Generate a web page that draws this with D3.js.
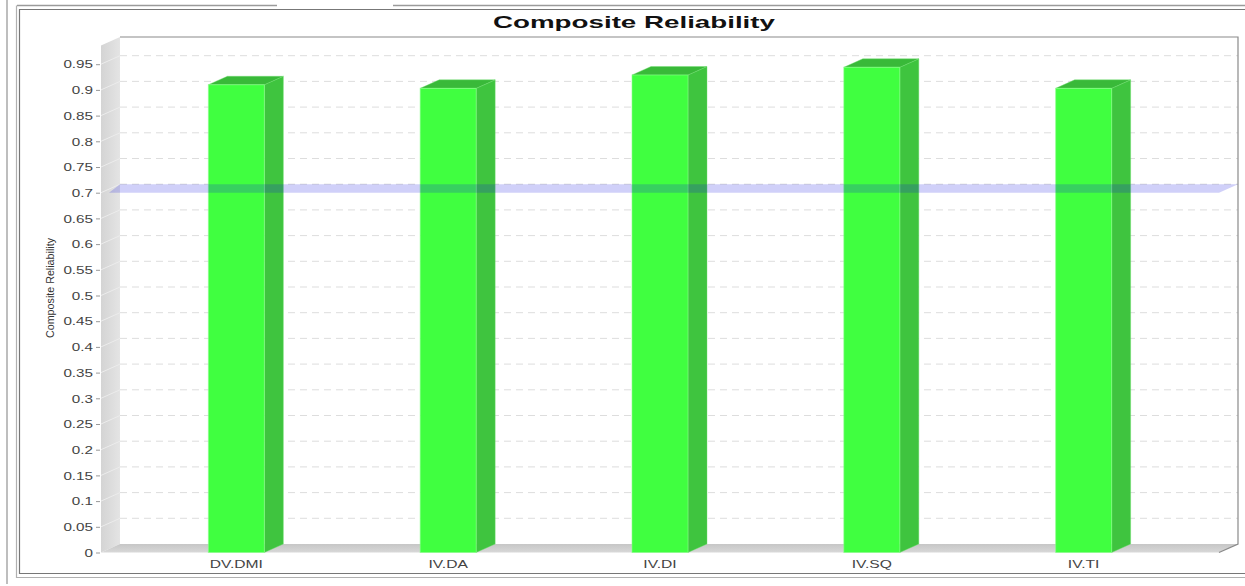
<!DOCTYPE html>
<html>
<head>
<meta charset="utf-8">
<script src="https://cdn.jsdelivr.net/npm/d3@7"></script>
<style>
  body { margin: 0; background: #fff; }
  svg { display: block; }
</style>
</head>
<body>
<svg id="chart" width="1245" height="586"></svg>
<script>
// Composite reliability per construct, with the 0.7 threshold marker
const categories = ["DV.DMI", "IV.DA", "IV.DI", "IV.SQ", "IV.TI"];
const reliability = [0.910, 0.903, 0.929, 0.944, 0.903];
const threshold = 0.7;
const yTicks = [0, 0.05, 0.1, 0.15, 0.2, 0.25, 0.3, 0.35, 0.4, 0.45, 0.5,
                0.55, 0.6, 0.65, 0.7, 0.75, 0.8, 0.85, 0.9, 0.95];
const chartTitle = "Composite Reliability";
const yAxisTitle = "Composite Reliability";

const svg = d3.select("#chart");
const FONT = "'Liberation Sans', Arial, sans-serif";

// plot frame (front plane) and 3D depth offset
const left = 101, right = 1219, frontTop = 45.5;
const dx = 19, dy = 8.5;
const barW = 56;

const y = d3.scaleLinear().domain([0, 1]).range([552.5, 38.5]);
const x = d3.scalePoint().domain(categories).range([left, right]).padding(0.639);
const y0 = y(0);

// widen text horizontally by a factor
function stretch(sel, factor) {
  sel.each(function () {
    const w = this.getComputedTextLength();
    d3.select(this).attr("textLength", w * factor).attr("lengthAdjust", "spacingAndGlyphs");
  });
}

// outer frame lines
svg.append("line").attr("x1", 7).attr("x2", 7).attr("y1", 0).attr("y2", 584)
  .attr("stroke", "#a8a8a8").attr("stroke-width", 1.5);
svg.append("line").attr("x1", 17).attr("x2", 277).attr("y1", 5.5).attr("y2", 5.5)
  .attr("stroke", "#9a9a9a").attr("stroke-width", 1.5);
svg.append("line").attr("x1", 393).attr("x2", 1245).attr("y1", 5.5).attr("y2", 5.5)
  .attr("stroke", "#9a9a9a").attr("stroke-width", 1.5);
svg.append("path").attr("d", "M16.5,5.5 V577.5 H1245")
  .attr("fill", "none").attr("stroke", "#b0b0b0").attr("stroke-width", 1.2);
svg.append("path").attr("d", "M1245,9.5 H19.5 V573.5 H1245")
  .attr("fill", "none").attr("stroke", "#777").attr("stroke-width", 1.2);

// title
svg.append("text").attr("x", 634).attr("y", 27.5).attr("text-anchor", "middle")
  .attr("font-family", FONT).attr("font-weight", "bold").attr("font-size", 17)
  .attr("fill", "#111").text(chartTitle)
  .attr("textLength", 282).attr("lengthAdjust", "spacingAndGlyphs");

// gradients for the side wall and floor
const defs = svg.append("defs");
const wg = defs.append("linearGradient").attr("id", "wallGrad").attr("x1", 0).attr("x2", 1).attr("y1", 0).attr("y2", 0);
wg.append("stop").attr("offset", 0).attr("stop-color", "#d4d4d4");
wg.append("stop").attr("offset", 1).attr("stop-color", "#e4e4e4");
const fg = defs.append("linearGradient").attr("id", "floorGrad").attr("x1", 0).attr("x2", 0).attr("y1", 0).attr("y2", 1);
fg.append("stop").attr("offset", 0).attr("stop-color", "#c6c6c6");
fg.append("stop").attr("offset", 1).attr("stop-color", "#d8d8d8");

const poly = pts => "M" + pts.map(p => p.join(",")).join("L") + "Z";

// left wall
svg.append("path")
  .attr("d", poly([[left, y0], [left, frontTop], [left + dx, frontTop - dy], [left + dx, y0 - dy]]))
  .attr("fill", "url(#wallGrad)");

// floor
svg.append("path")
  .attr("d", poly([[left, y0], [left + dx, y0 - dy], [right + dx, y0 - dy], [right, y0]]))
  .attr("fill", "url(#floorGrad)");

// gridlines on the back wall and traces on the side wall
const grid = svg.append("g");
grid.selectAll("line.back").data(yTicks.filter(v => v > 0)).join("line")
  .attr("class", "back")
  .attr("x1", left + dx).attr("x2", right + dx)
  .attr("y1", d => y(d) - dy).attr("y2", d => y(d) - dy)
  .attr("stroke", "#d9d9d9").attr("stroke-width", 0.9)
  .attr("stroke-dasharray", "7,5");
grid.selectAll("line.side").data(yTicks.filter(v => v > 0)).join("line")
  .attr("class", "side")
  .attr("x1", left).attr("x2", left + dx)
  .attr("y1", d => y(d)).attr("y2", d => y(d) - dy)
  .attr("stroke", "#ececec").attr("stroke-width", 1);

// back wall outline
svg.append("path")
  .attr("d", `M${left + dx},${frontTop - dy} H${right + dx} V${y0 - dy} L${right},${y0}`)
  .attr("fill", "none").attr("stroke", "#8a8a8a").attr("stroke-width", 1.2);

// bars: side, top, then front face
const bars = svg.append("g").selectAll("g").data(categories.map((c, i) => ({ c, v: reliability[i] })))
  .join("g");
bars.each(function (d) {
  const g = d3.select(this);
  const cx = x(d.c), x0 = cx - barW / 2, x1 = cx + barW / 2, yt = y(d.v);
  g.append("path").attr("d", poly([[x1, yt], [x1 + dx, yt - dy], [x1 + dx, y0 - dy], [x1, y0]]))
    .attr("fill", "#3fc43f").attr("stroke", "#6fe06f").attr("stroke-width", 0.8).attr("stroke-opacity", 0.5);
  g.append("path").attr("d", poly([[x0, yt], [x0 + dx, yt - dy], [x1 + dx, yt - dy], [x1, yt]]))
    .attr("fill", "#39b939").attr("stroke", "#6fe06f").attr("stroke-width", 0.8).attr("stroke-opacity", 0.5);
  g.append("rect").attr("x", x0).attr("y", yt).attr("width", barW).attr("height", y0 - yt)
    .attr("fill", "#40ff40").attr("stroke", "#8aff8a").attr("stroke-width", 1).attr("stroke-opacity", 0.6);
});

// threshold marker band
const ym = y(threshold);
svg.append("path")
  .attr("d", poly([[left + 8, ym], [left + dx, ym - dy], [right + dx, ym - dy], [right, ym]]))
  .attr("fill", "rgb(20,20,225)").attr("fill-opacity", 0.2);

// value axis
const yAxis = d3.axisLeft(y).tickValues(yTicks).tickFormat(d3.format("~g")).tickSize(4).tickPadding(3);
const ya = svg.append("g").attr("transform", `translate(${left - 1},0)`).call(yAxis);
ya.select(".domain").remove();
ya.selectAll(".tick line").attr("stroke", "#999");
ya.selectAll(".tick text").attr("font-family", FONT).attr("font-size", 10.5).attr("fill", "#444")
  .attr("dy", "0.36em").call(stretch, 1.45);

// category labels
svg.append("g").selectAll("text").data(categories).join("text")
  .attr("x", d => x(d)).attr("y", 568).attr("text-anchor", "middle")
  .attr("font-family", FONT).attr("font-size", 11).attr("fill", "#444")
  .text(d => d).call(stretch, 1.42);

// value axis title
svg.append("text").attr("transform", "translate(54,288) rotate(-90)")
  .attr("text-anchor", "middle").attr("font-family", FONT).attr("font-size", 10)
  .attr("fill", "#333").text(yAxisTitle)
  .attr("textLength", 100).attr("lengthAdjust", "spacingAndGlyphs");
</script>
</body>
</html>
